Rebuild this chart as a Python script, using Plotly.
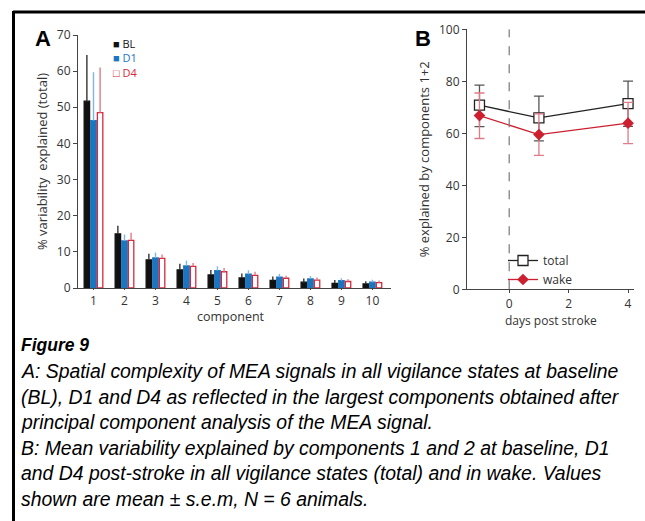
import plotly.graph_objects as go

# ---------------- data ----------------
components = [1, 2, 3, 4, 5, 6, 7, 8, 9, 10]
bl_mean = [51.7, 15.0, 7.8, 5.0, 3.6, 2.8, 2.1, 1.6, 1.3, 1.1]
bl_err = [12.8, 2.2, 1.7, 1.7, 1.4, 1.2, 1.1, 1.0, 0.9, 0.8]
d1_mean = [46.3, 13.0, 8.3, 6.1, 4.8, 3.8, 3.0, 2.5, 2.0, 1.6]
d1_err = [13.4, 1.8, 1.5, 1.5, 1.2, 1.1, 0.9, 0.8, 0.7, 0.7]
d4_mean = [48.5, 13.2, 8.2, 6.0, 4.5, 3.5, 2.7, 2.2, 1.8, 1.5]
d4_err = [12.5, 2.1, 1.1, 0.9, 1.0, 1.0, 0.7, 0.7, 0.6, 0.6]

days = [-1, 1, 4]
total_mean = [70.8, 65.9, 71.4]
total_err_plus = [7.7, 8.4, 8.7]
total_err_minus = [8.2, 8.8, 8.7]
wake_mean = [66.8, 59.5, 63.9]
wake_err_plus = [8.7, 8.0, 8.0]
wake_err_minus = [8.8, 8.0, 7.9]

caption_lines = [
    "A: Spatial complexity of MEA signals in all vigilance states at baseline",
    "(BL), D1 and D4 as reflected in the largest components obtained after",
    "principal component analysis of the MEA signal.",
    "B: Mean variability explained by components 1 and 2 at baseline, D1",
    "and D4 post-stroke in all vigilance states (total) and in wake. Values",
    "shown are mean \u00b1 s.e.m, N = 6 animals.",
]

W, H = 645, 521
FONT = "Open Sans"
CAPFONT = "Liberation Sans"
AX = "#444444"
BLUE = "#1b75bf"
BLUE_E = "#7db7e6"
RED = "#d62a3c"
RED_E = "#e37a88"


def px(x):
    return x / W


def py(y):
    return 1 - y / H


fig = go.Figure()

# ---- Panel A bars ----
for name, mean, err, fill, line, ecol in [
    ("BL", bl_mean, bl_err, "#111111", "#111111", "#333333"),
    ("D1", d1_mean, d1_err, BLUE, BLUE, BLUE_E),
    ("D4", d4_mean, d4_err, "white", RED, RED_E),
]:
    fig.add_trace(go.Bar(
        x=components, y=mean, name=name, showlegend=False,
        marker=dict(color=fill, line=dict(color=line, width=1.3)),
        error_y=dict(type="data", symmetric=False, array=err,
                     arrayminus=[0] * len(err), width=0, thickness=1.4, color=ecol),
        xaxis="x", yaxis="y",
    ))

# ---- Panel B lines ----
fig.add_trace(go.Scatter(
    x=days, y=total_mean, name="total", mode="lines+markers",
    line=dict(color="#222222", width=1.3),
    marker=dict(symbol="square", size=10, color="white", line=dict(color="#222222", width=1.3)),
    error_y=dict(type="data", symmetric=False, array=total_err_plus, arrayminus=total_err_minus,
                 width=5, thickness=1.3, color="#555555"),
    xaxis="x2", yaxis="y2",
))
fig.add_trace(go.Scatter(
    x=days, y=wake_mean, name="wake", mode="lines+markers",
    line=dict(color="#cc2030", width=1.3),
    marker=dict(symbol="diamond", size=9, color="#cc2030"),
    error_y=dict(type="data", symmetric=False, array=wake_err_plus, arrayminus=wake_err_minus,
                 width=5, thickness=1.3, color=RED_E),
    xaxis="x2", yaxis="y2",
))

tickfont = dict(family=FONT, size=12, color="#333333")
axcommon = dict(showgrid=False, zeroline=False, showline=True, linecolor=AX, linewidth=1.2,
                ticks="outside", tickcolor=AX, tickfont=tickfont, automargin=False)

legend_a = ("<span style='color:#111111'>\u25a0 BL</span><br>"
            f"<span style='color:{BLUE}'>\u25a0 D1</span><br>"
            f"<span style='color:{RED}'>\u25a1 D4</span>")

annotations = [
    dict(text="<b>A</b>", x=px(43), y=py(38), xref="paper", yref="paper", showarrow=False,
         xanchor="center", yanchor="middle",
         font=dict(family="Liberation Sans", size=22, color="black")),
    dict(text="<b>B</b>", x=px(423), y=py(38), xref="paper", yref="paper", showarrow=False,
         xanchor="center", yanchor="middle",
         font=dict(family="Liberation Sans", size=22, color="black")),
    dict(text=legend_a, x=px(111), y=py(34), xref="paper", yref="paper", xanchor="left",
         yanchor="top", align="left", showarrow=False,
         font=dict(family=FONT, size=11, color="#111111")),
    dict(text="component", x=px(231), y=py(316), xref="paper", yref="paper",
         xanchor="center", yanchor="middle", showarrow=False,
         font=dict(family=FONT, size=12.5, color="#333333")),
    dict(text="days post stroke", x=px(551), y=py(320.5), xref="paper", yref="paper",
         xanchor="center", yanchor="middle", showarrow=False,
         font=dict(family=FONT, size=12, color="#333333")),
    dict(text="<b><i>Figure 9</i></b>", x=px(19), y=py(345), xref="paper", yref="paper",
         xanchor="left", yanchor="middle", showarrow=False,
         font=dict(family=CAPFONT, size=17.5, color="black")),
]
for i, line in enumerate(caption_lines):
    annotations.append(dict(text="<i>" + line + "</i>", x=px(19), y=py(371 + i * 25.5),
                            xref="paper", yref="paper", xanchor="left", yanchor="middle",
                            showarrow=False,
                            font=dict(family=CAPFONT, size=19.4, color="black")))

shapes = [
    dict(type="line", xref="paper", yref="paper", x0=px(13), x1=1.0, y0=py(12), y1=py(12),
         line=dict(color="black", width=3)),
    dict(type="line", xref="paper", yref="paper", x0=px(13.5), x1=px(13.5), y0=py(11), y1=0,
         line=dict(color="black", width=3)),
    dict(type="line", xref="x2", yref="y2", x0=0, x1=0, y0=0, y1=100,
         line=dict(color="#777777", width=1.2, dash="dash")),
]

fig.update_layout(
    width=W, height=H, margin=dict(l=0, r=0, t=0, b=0, autoexpand=False),
    paper_bgcolor="white", plot_bgcolor="white",
    barmode="group", bargap=0.36, bargroupgap=0.18,
    font=dict(family=FONT, color="#333333"),
    xaxis=dict(domain=[px(78), px(391)], range=[0.5, 10.6], tickmode="array",
               tickvals=components, ticklen=1, **axcommon),
    yaxis=dict(domain=[py(288), py(35)], range=[0, 70], tickvals=[0, 10, 20, 30, 40, 50, 60, 70],
               ticklen=4,
               title=dict(text="% variability  explained (total)",
                          font=dict(family=FONT, size=13, color="#333333"), standoff=6),
               **axcommon),
    xaxis2=dict(domain=[px(467), px(634)], range=[-1.42, 4.2], tickvals=[0, 2, 4],
                anchor="y2", ticklen=3, **axcommon),
    yaxis2=dict(domain=[py(289.3), py(29.3)], range=[0, 100], tickvals=[0, 20, 40, 60, 80, 100],
                anchor="x2", ticklen=4,
                title=dict(text="% explained by components 1+2",
                           font=dict(family=FONT, size=13, color="#333333"), standoff=6),
                **axcommon),
    legend=dict(x=px(503), y=py(246), xanchor="left", yanchor="top", bgcolor="rgba(0,0,0,0)",
                font=dict(family=FONT, size=12, color="#333333"), itemwidth=30, tracegroupgap=0),
    annotations=annotations,
    shapes=shapes,
)

fig.write_html("out.html")
